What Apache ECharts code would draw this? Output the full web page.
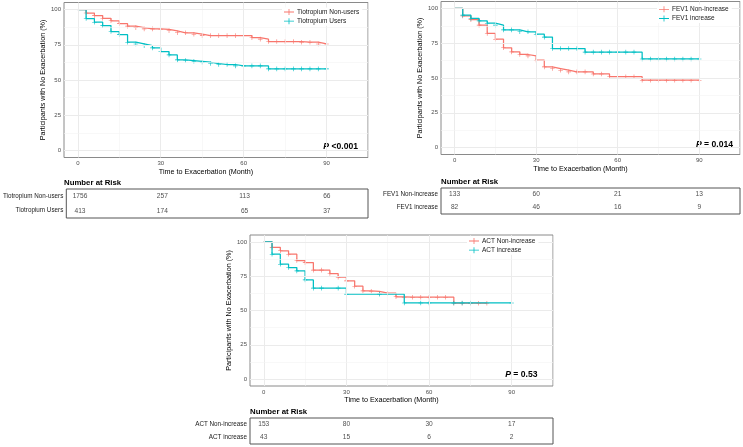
<!DOCTYPE html>
<html><head><meta charset="utf-8">
<script src="https://cdn.jsdelivr.net/npm/echarts@6/dist/echarts.min.js"></script>
<style>html,body{margin:0;padding:0;background:#fff}#c{width:743px;height:447px}</style>
</head><body><div id="c"></div>
<script>
// ---- data ----
const xTicks = [0, 30, 60, 90];
const yTicks = [0, 25, 50, 75, 100];
const every3 = [0,3,6,9,12,15,18,21,24,27,30,33,36,39,42,45,48,51,54,57,60,63,66,69,72,75,78,81,84,87,90];

const tioNonT = every3;
const tioNonS = [100,97.5,95.7,93.8,92,90,88.2,87.2,86.3,86.3,86,84.9,83.5,83.5,82.5,81.5,81.5,81.5,81.5,81.5,81.5,80,79,77.3,77.3,77.3,77.3,76.8,76.8,75.6,75.6];
const tioUseT = every3;
const tioUseS = [100,93.6,91,88.6,84.4,82.2,76.8,75.6,74.4,72.8,70.2,67.8,64.3,63.8,63.3,62.6,61.7,61,61,60,60,60,60,57.9,57.9,57.9,57.9,57.9,57.9,57.9,57.9];

const fevNonT = every3;
const fevNonS = [100,94.7,92,88,82,77.9,71.7,68.8,66.9,65.9,62.8,58,56.8,55.6,54.4,54.4,54.4,52.9,52.9,50.9,50.9,50.9,50.9,48.4,48.4,48.4,48.4,48.4,48.4,48.4,48.4];
const fevIncT = every3;
const fevIncS = [100,95.2,92.8,91.1,89.4,88,84.6,84.6,83.2,83.2,81.5,79.4,71.2,71.2,71.2,71.2,68.6,68.6,68.6,68.6,68.6,68.6,68.6,63.7,63.7,63.7,63.7,63.7,63.7,63.7,63.7];

const actNonT = [0,3,6,9,12,15,18,21,24,27,30,33,36,39,42,45,48,51,54,57,60,63,66,69,72,75,78,81];
const actNonS = [100,96,93.5,91,86.4,84.9,79.4,79.4,76.9,74.3,71.6,67.7,64.3,64,62.6,62.6,60,59.7,59.7,59.7,59.7,59.7,59.7,55.3,55.3,55.3,55.3,55.3];
const actIncT = [0,3,6,9,12,15,18,21,27,30,42,51,57,60,69,72,75,90];
const actIncS = [100,91,83.7,81.3,78.9,72.3,66.3,66.3,66.3,61.9,61.9,55.5,55.5,55.5,55.5,55.5,55.5,55.5];

const riskTimes = [0, 30, 60, 90];
const tioGroups = ['Tiotropium Non-users', 'Tiotropium Users'];
const tioRisk = [[1756, 257, 113, 66], [413, 174, 65, 37]];
const fevGroups = ['FEV1 Non-increase', 'FEV1 increase'];
const fevRisk = [[133, 60, 21, 13], [82, 46, 16, 9]];
const actGroups = ['ACT Non-increase', 'ACT increase'];
const actRisk = [[153, 80, 30, 17], [43, 15, 6, 2]];
const pTexts = ['<0.001', '= 0.014', '= 0.53'];

// ---- styling ----
const RED = '#F8766D', CYAN = '#00BFC4';
const FONT = '"Liberation Sans", Arial, Helvetica, sans-serif';
const PLUS = 'path://M0,4.35h10v1.3h-10z M4.35,0h1.3v10h-1.3z';
const LEG = 'path://M0,2.6h10v0.8h-10z M4.6,0h0.8v6h-0.8z';

const plots = [
  {left: 64, top: 2.5, width: 304, height: 155, groups: tioGroups, risk: tioRisk,
   series: [[tioNonT, tioNonS], [tioUseT, tioUseS]], legend: {left: 284, top: 8.5},
   table: {top: 189, height: 29}, p: {x: 358, y: 147, t: pTexts[0]}},
  {left: 441, top: 1.5, width: 299, height: 153, groups: fevGroups, risk: fevRisk,
   series: [[fevNonT, fevNonS], [fevIncT, fevIncS]], legend: {left: 659, top: 5.8},
   table: {top: 188, height: 26}, p: {x: 733, y: 144.5, t: pTexts[1]}},
  {left: 250, top: 235, width: 303, height: 151, groups: actGroups, risk: actRisk,
   series: [[actNonT, actNonS], [actIncT, actIncS]], legend: {left: 469, top: 237.5},
   table: {top: 418, height: 26}, p: {x: 537.5, y: 375, t: pTexts[2]}}
];

const grid = [], xAxis = [], yAxis = [], series = [], legend = [], graphic = [];
const majX = [0, 30, 60, 90], minX = [15, 45, 75, 105];
const majY = [0, 25, 50, 75, 100], minY = [12.5, 37.5, 62.5, 87.5];

plots.forEach((p, k) => {
  const gi = grid.length;
  grid.push({left: p.left, top: p.top, width: p.width, height: p.height, show: true,
    borderColor: '#8a8a8a', borderWidth: 1, backgroundColor: '#fff', containLabel: false});
  xAxis.push({type: 'value', gridIndex: gi, min: -5, max: 105,
    name: 'Time to Exacerbation (Month)', nameLocation: 'middle', nameGap: 11,
    nameTextStyle: {fontFamily: FONT, fontSize: 7.2, color: '#000', padding: [0, 20, 0, 0]},
    axisLine: {show: false}, splitLine: {show: false},
    axisTick: {show: true, length: 2.5, customValues: xTicks, lineStyle: {color: '#333', width: 0.6}},
    axisLabel: {customValues: xTicks, fontFamily: FONT, fontSize: 6, color: '#4d4d4d', margin: 3}});
  yAxis.push({type: 'value', gridIndex: gi, min: -5, max: 105,
    name: 'Participants with No Exacerbation (%)', nameLocation: 'middle', nameGap: 17,
    nameTextStyle: {fontFamily: FONT, fontSize: 7.2, color: '#000'},
    axisLine: {show: false}, splitLine: {show: false},
    axisTick: {show: true, length: 2.5, customValues: yTicks, lineStyle: {color: '#333', width: 0.6}},
    axisLabel: {customValues: yTicks, fontFamily: FONT, fontSize: 6, color: '#4d4d4d', margin: 3}});
  // grid lines
  const ml = [];
  majX.forEach(v => ml.push({xAxis: v, lineStyle: {color: '#ebebeb', width: 1, type: 'solid'}}));
  minX.forEach(v => ml.push({xAxis: v, lineStyle: {color: '#f3f3f3', width: 0.6, type: 'solid'}}));
  majY.forEach(v => ml.push({yAxis: v, lineStyle: {color: '#ebebeb', width: 1, type: 'solid'}}));
  minY.forEach(v => ml.push({yAxis: v, lineStyle: {color: '#f3f3f3', width: 0.6, type: 'solid'}}));
  series.push({type: 'line', xAxisIndex: gi, yAxisIndex: gi, data: [], z: 1, silent: true,
    markLine: {silent: true, symbol: ['none', 'none'], label: {show: false}, animation: false, data: ml}});
  // KM curves
  p.series.forEach((s, j) => {
    const col = j === 0 ? RED : CYAN;
    series.push({type: 'line', name: p.groups[j], xAxisIndex: gi, yAxisIndex: gi, z: 3 + j,
      step: 'end', data: s[0].map((t, i) => [t, s[1][i]]),
      symbol: PLUS, symbolSize: (v) => v[0] === 0 ? 0 : 4.6, showSymbol: true, showAllSymbol: true,
      lineStyle: {color: col, width: 1.25}, itemStyle: {color: col, borderWidth: 0},
      animation: false, silent: true});
  });
  legend.push({left: p.legend.left - 2, top: p.legend.top - 1, orient: 'vertical', data: p.groups,
    icon: LEG, itemWidth: 10, itemHeight: 6, itemGap: 2.2, selectedMode: false,
    backgroundColor: '#fff', padding: [1, 3, 1, 2], z: 10,
    textStyle: {fontFamily: FONT, fontSize: 6.5, color: '#1a1a1a', padding: [0, 0, 0, -2]}});
  // risk table
  const ti = grid.length;
  grid.push({left: p.left, top: p.table.top, width: p.width, height: p.table.height, show: true,
    borderColor: '#555', borderWidth: 1, backgroundColor: '#fff'});
  xAxis.push({type: 'value', gridIndex: ti, min: -5, max: 105, show: false});
  yAxis.push({type: 'category', gridIndex: ti, data: p.groups, inverse: true,
    axisLine: {show: false}, axisTick: {show: false}, splitLine: {show: false},
    axisLabel: {fontFamily: FONT, fontSize: 6.3, color: '#1a1a1a', margin: 3}});
  const td = [];
  p.groups.forEach((g, j) => riskTimes.forEach((t, i) => td.push([t, g, p.risk[j][i]])));
  series.push({type: 'scatter', xAxisIndex: ti, yAxisIndex: ti, data: td, symbolSize: 0.01,
    silent: true, animation: false,
    label: {show: true, position: 'inside', formatter: (d) => String(d.value[2]),
      fontFamily: FONT, fontSize: 6.6, color: '#1a1a1a'}});
  graphic.push({type: 'text', left: p.left, top: p.table.top - 10.5,
    style: {text: 'Number at Risk', fontFamily: FONT, fontSize: 7.8, fontWeight: 'bold', fill: '#000'}});
  graphic.push({type: 'text', x: p.p.x, y: p.p.y,
    style: {text: '{i|P} ' + p.p.t, align: 'right', verticalAlign: 'middle',
      fontFamily: FONT, fontSize: 8.6, fontWeight: 'bold', fill: '#000',
      rich: {i: {fontStyle: 'italic', fontWeight: 'bold', fontFamily: FONT, fontSize: 8.6, fill: '#000'}}}});
});

const chart = echarts.init(document.getElementById('c'), null, {renderer: 'canvas'});
chart.setOption({animation: false, backgroundColor: '#fff', grid, xAxis, yAxis, series, legend, graphic});
</script></body></html>
